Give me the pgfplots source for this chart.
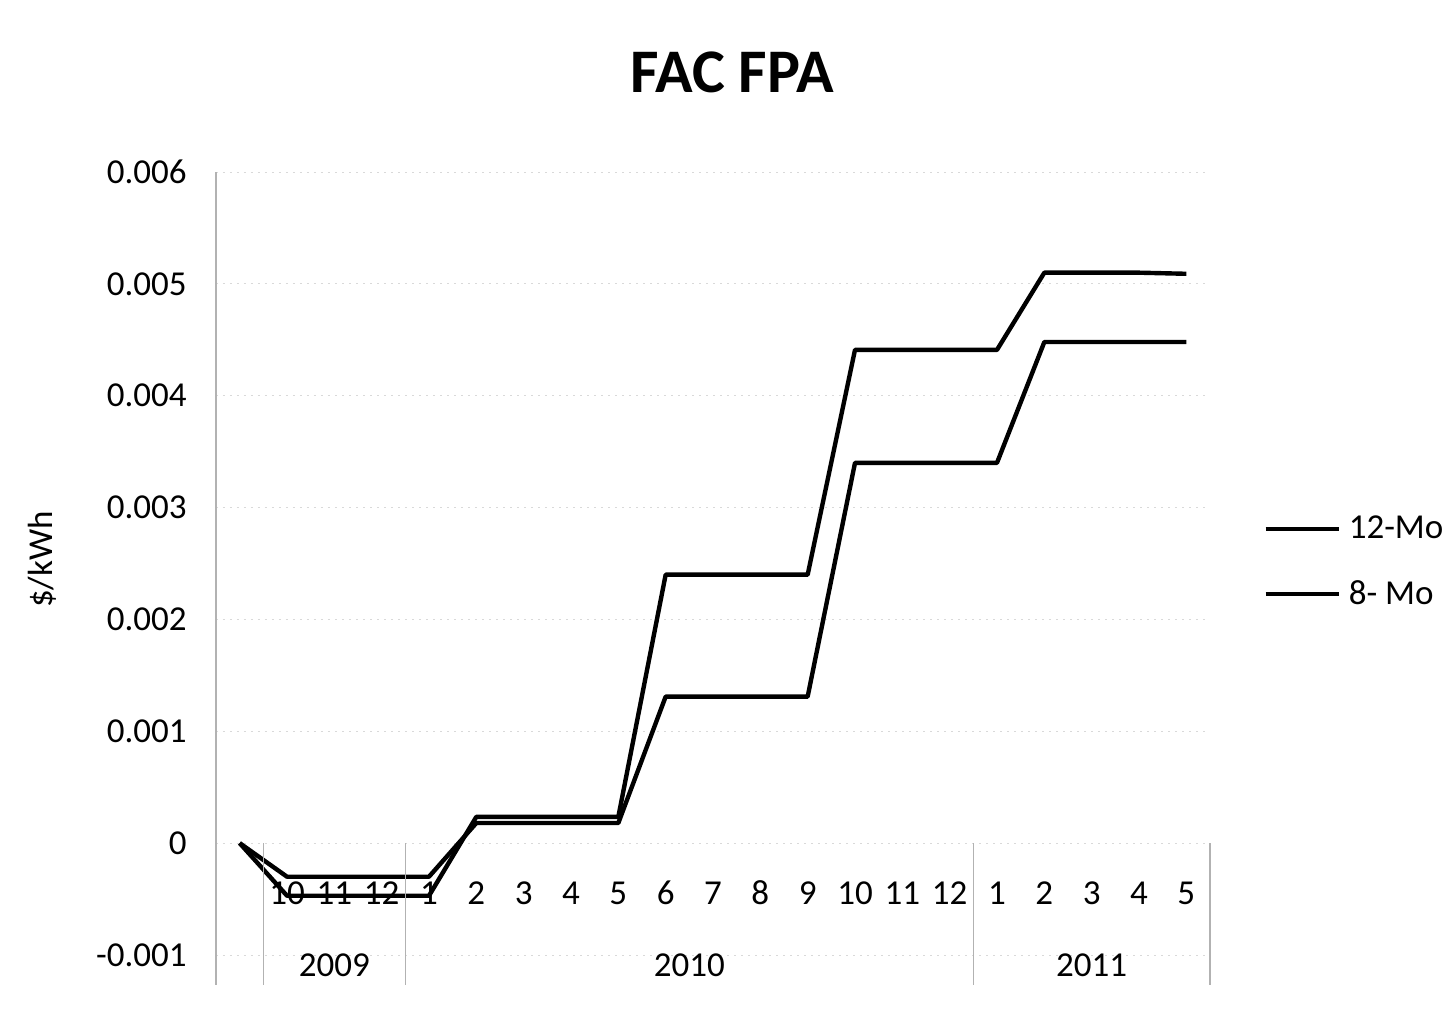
\documentclass[border=0pt]{standalone}
\usepackage{fontspec}
\setmainfont{Carlito}
\usepackage{pgfplots}
\pgfplotsset{compat=1.18}
\newcommand{\lbl}{\fontsize{17.5}{17.5}\selectfont}
\begin{document}
\begin{tikzpicture}
\path[use as bounding box] (0,0) rectangle (723pt,504.5pt);
\node[font=\fontsize{31}{31}\selectfont\bfseries, inner sep=0pt, anchor=base] at (366pt,458pt) {FAC FPA};
\begin{axis}[
  at={(108pt,27pt)}, anchor=south west,
  scale only axis, width=497pt, height=391.5pt,
  xmin=-0.5, xmax=20.5, ymin=-0.001, ymax=0.006,
  clip=false,
  axis lines*=left,
  x axis line style={draw=none},
  y axis line style={gray!60, line width=0.6pt},
  tick style={draw=none},
  xtick={0,...,20},
  xticklabels={{},10,11,12,1,2,3,4,5,6,7,8,9,10,11,12,1,2,3,4,5},
  xticklabel style={anchor=center, inner sep=0pt, yshift=31pt, font=\lbl},
  ytick={-0.001,0,0.001,0.002,0.003,0.004,0.005,0.006},
  yticklabels={-0.001,0,0.001,0.002,0.003,0.004,0.005,0.006},
  scaled y ticks=false,
  yticklabel style={anchor=east, inner sep=0pt, xshift=-14.5pt, font=\lbl},
  ymajorgrids,
  grid style={gray!30, line width=0.5pt, dash pattern=on 1pt off 2.5pt},
  ylabel={\$/kWh},
  ylabel style={at={(axis description cs:-0.175,0.505)}, anchor=center, font=\lbl, inner sep=0pt},
  legend style={draw=none, fill=none, at={(axis description cs:1.0533,0.502)}, anchor=west,
    inner sep=0pt, row sep=19.5pt, font=\lbl, nodes={inner sep=0pt},
    cells={anchor=west}, /tikz/every odd column/.append style={column sep=4pt}},
  legend image code/.code={\draw[#1] (0pt,0pt) -- (36.5pt,0pt);},
]
\addplot[black, line width=2.2pt, line join=round] coordinates {
 (0,0) (1,-0.0003) (2,-0.0003) (3,-0.0003) (4,-0.0003)
 (5,0.00018) (6,0.00018) (7,0.00018) (8,0.00018)
 (9,0.00131) (10,0.00131) (11,0.00131) (12,0.00131)
 (13,0.0034) (14,0.0034) (15,0.0034) (16,0.0034)
 (17,0.00448) (18,0.00448) (19,0.00448) (20,0.00448)};
\addlegendentry{12-Mo}
\addplot[black, line width=2.2pt, line join=round] coordinates {
 (0,0) (1,-0.00047) (2,-0.00047) (3,-0.00047) (4,-0.00047)
 (5,0.000235) (6,0.000235) (7,0.000235) (8,0.000235)
 (9,0.0024) (10,0.0024) (11,0.0024) (12,0.0024)
 (13,0.00441) (14,0.00441) (15,0.00441) (16,0.00441)
 (17,0.0051) (18,0.0051) (19,0.0051) (20,0.00509)};
\addlegendentry{8- Mo}
\pgfplotsinvokeforeach{-0.5,0.5,3.5,15.5,20.5}{
  \draw[gray!60, line width=0.6pt] (axis cs:#1,0) -- (axis cs:#1,-0.00127);
}
\node[font=\lbl, inner sep=0pt, anchor=center] at (axis cs:2,-0.00109) {2009};
\node[font=\lbl, inner sep=0pt, anchor=center] at (axis cs:9.5,-0.00109) {2010};
\node[font=\lbl, inner sep=0pt, anchor=center] at (axis cs:18,-0.00109) {2011};
\end{axis}
\end{tikzpicture}
\end{document}
